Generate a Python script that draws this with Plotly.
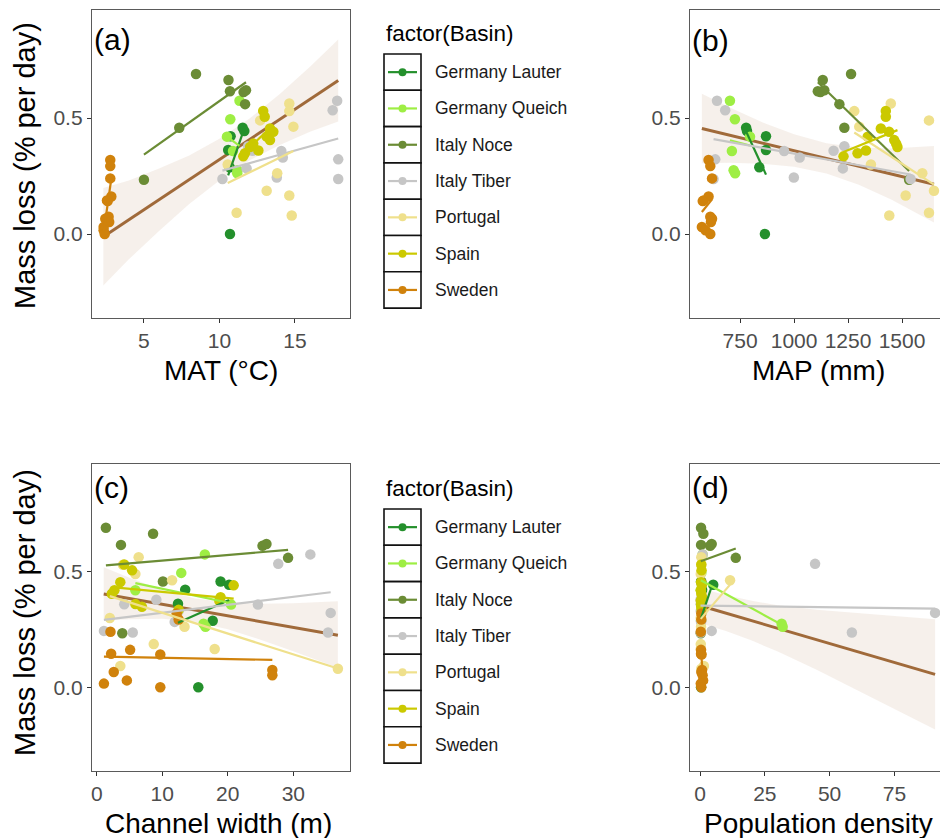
import numpy as np
import plotly.graph_objects as go

# ---------------- data ----------------
basins = ["Germany Lauter", "Germany Queich", "Italy Noce", "Italy Tiber",
          "Portugal", "Spain", "Sweden"]
basin_colors = ["#24902c", "#9eee44", "#6b8c35", "#c6c6c6",
                "#efe08c", "#cbc900", "#d0820c"]

# Germany Lauter
lauter_ml = [0.458, 0.444, 0.422, 0.362, 0.288, 0.000]
lauter_mat = [11.54, 11.65, 10.74, 10.58, 10.68, 10.70]
lauter_map = [778, 782, 870, 870, 839, 865]
lauter_width = [18.9, 20.2, 13.5, 12.4, 17.7, 15.5]
lauter_pop = [0.4, 5.1, 0.8, 0.6, 0.4, 0.4]

# Germany Queich
queich_ml = [0.575, 0.495, 0.420, 0.358, 0.275, 0.262]
queich_mat = [11.33, 10.72, 10.50, 10.90, 11.20, 11.18]
queich_map = [703, 726, 796, 712, 720, 727]
queich_width = [16.5, 12.9, 5.9, 20.5, 16.3, 16.6]
queich_pop = [1.0, 0.5, 0.3, 0.4, 31.5, 31.9]

# Italy Noce
noce_ml = [0.690, 0.664, 0.616, 0.612, 0.620, 0.560, 0.458, 0.234]
noce_mat = [8.45, 10.60, 10.70, 11.60, 11.76, 11.70, 7.34, 5.00]
noce_map = [1264, 1133, 1110, 1122, 1140, 1210, 1233, 1533]
noce_width = [1.4, 8.6, 3.7, 25.3, 25.9, 29.2, 10.1, 3.9]
noce_pop = [0.4, 1.3, 0.4, 3.9, 4.5, 13.8, 0.5, 0.3]

# Italy Tiber
tiber_ml = [0.575, 0.534, 0.322, 0.237, 0.358, 0.330, 0.244, 0.359, 0.379, 0.283, 0.237]
tiber_mat = [17.80, 17.50, 17.87, 17.87, 14.10, 14.20, 13.80, 12.20, 11.90, 11.80, 10.20]
tiber_map = [643, 681, 635, 627, 954, 1026, 999, 1183, 1233, 1226, 1540]
tiber_width = [32.6, 27.7, 35.7, 35.3, 24.6, 12.5, 1.1, 4.2, 9.1, 11.9, 5.5]
tiber_pop = [1.0, 44.4, 90.7, 58.6, 0.5, 0.3, 4.5, 0.3, 0.2, 0.4, 0.3]

# Portugal
portugal_ml = [0.563, 0.530, 0.463, 0.490, 0.262, 0.187, 0.166, 0.092, 0.080, 0.300]
portugal_mat = [14.63, 14.63, 14.90, 12.70, 13.83, 13.13, 14.63, 11.14, 14.79, 10.55]
portugal_map = [1448, 1279, 1302, 1625, 1594, 1648, 1517, 1625, 1441, 1356]
portugal_width = [6.4, 4.0, 11.5, 5.9, 13.4, 8.7, 18.0, 3.6, 36.8, 2.0]
portugal_pop = [0.5, 0.5, 11.6, 0.3, 0.4, 0.3, 0.3, 1.5, 0.5, 0.3]

# Spain
spain_ml = [0.531, 0.506, 0.455, 0.441, 0.420, 0.405, 0.390, 0.375, 0.360, 0.348, 0.335]
spain_mat = [12.90, 13.00, 13.35, 13.57, 13.13, 13.35, 12.24, 12.03, 12.58, 11.69, 11.58]
spain_map = [1425, 1425, 1402, 1440, 1341, 1464, 1473, 1479, 1333, 1294, 1229]
spain_width = [4.2, 5.4, 3.6, 20.9, 2.7, 2.3, 18.9, 18.7, 5.9, 6.9, 12.5]
spain_pop = [0.5, 0.6, 0.4, 0.7, 0.3, 0.5, 0.8, 0.3, 0.4, 0.5, 0.6]

# Sweden
sweden_ml = [0.319, 0.293, 0.240, 0.162, 0.145, 0.142, 0.075, 0.066, 0.052, 0.030, 0.016, 0.000]
sweden_mat = [2.77, 2.77, 2.77, 2.84, 2.55, 2.60, 2.66, 2.44, 2.70, 2.33, 2.33, 2.40]
sweden_map = [604, 612, 620, 604, 581, 577, 612, 620, 615, 573, 590, 612]
sweden_width = [12.2, 12.5, 2.1, 5.1, 2.2, 9.7, 26.8, 2.6, 26.8, 4.6, 1.1, 9.7]
sweden_pop = [0.5, 0.5, 0.3, 0.4, 0.4, 0.6, 0.8, 0.5, 1.0, 1.2, 0.3, 0.5]

# Overall model fit with confidence band
mat_fit_x = [2.31, 4, 6, 8, 10, 12, 14, 16, 17.87]
mat_fit_y = [-0.012, 0.061, 0.148, 0.234, 0.321, 0.408, 0.494, 0.581, 0.662]
mat_fit_lo = [-0.222, -0.109, 0.013, 0.129, 0.231, 0.318, 0.384, 0.441, 0.485]
mat_fit_hi = [0.198, 0.231, 0.283, 0.339, 0.411, 0.498, 0.604, 0.721, 0.839]

map_fit_x = [573, 700, 850, 1000, 1150, 1300, 1450, 1648]
map_fit_y = [0.455, 0.427, 0.393, 0.360, 0.326, 0.293, 0.259, 0.215]
map_fit_lo = [0.305, 0.307, 0.303, 0.290, 0.261, 0.213, 0.149, 0.050]
map_fit_hi = [0.605, 0.547, 0.483, 0.430, 0.391, 0.373, 0.369, 0.380]

width_fit_x = [1.07, 5, 10, 15, 20, 25, 30, 36.8]
width_fit_y = [0.404, 0.384, 0.359, 0.334, 0.309, 0.284, 0.259, 0.225]
width_fit_lo = [0.289, 0.294, 0.297, 0.284, 0.251, 0.206, 0.156, 0.085]
width_fit_hi = [0.519, 0.474, 0.421, 0.384, 0.367, 0.362, 0.364, 0.372]

pop_fit_x = [0.2, 10, 20, 30, 45, 60, 75, 90.7]
pop_fit_y = [0.353, 0.321, 0.288, 0.255, 0.206, 0.157, 0.108, 0.056]
pop_fit_lo = [0.277, 0.244, 0.202, 0.155, 0.076, -0.008, -0.095, -0.182]
pop_fit_hi = [0.429, 0.398, 0.374, 0.355, 0.336, 0.322, 0.311, 0.294]

# tick labels
mat_ticks = [5, 10, 15]
map_ticks = [750, 1000, 1250, 1500]
width_ticks = [0, 10, 20, 30]
pop_ticks = [0, 25, 50, 75]
y_ticks = [0.0, 0.5]
y_ticktext = ["0.0", "0.5"]

# ---------------- assemble ----------------
site_table = {
    "Germany Lauter": dict(ml=lauter_ml, mat=lauter_mat, map=lauter_map, width=lauter_width, pop=lauter_pop),
    "Germany Queich": dict(ml=queich_ml, mat=queich_mat, map=queich_map, width=queich_width, pop=queich_pop),
    "Italy Noce": dict(ml=noce_ml, mat=noce_mat, map=noce_map, width=noce_width, pop=noce_pop),
    "Italy Tiber": dict(ml=tiber_ml, mat=tiber_mat, map=tiber_map, width=tiber_width, pop=tiber_pop),
    "Portugal": dict(ml=portugal_ml, mat=portugal_mat, map=portugal_map, width=portugal_width, pop=portugal_pop),
    "Spain": dict(ml=spain_ml, mat=spain_mat, map=spain_map, width=spain_width, pop=spain_pop),
    "Sweden": dict(ml=sweden_ml, mat=sweden_mat, map=sweden_map, width=sweden_width, pop=sweden_pop),
}

W, H = 940, 838
FONT = "Liberation Sans, Arial, sans-serif"


def px(x):
    return x / W


def py(y):
    return 1 - y / H


panels = [
    dict(var="mat", xa="x", ya="y", fit=(mat_fit_x, mat_fit_y, mat_fit_lo, mat_fit_hi)),
    dict(var="map", xa="x2", ya="y2", fit=(map_fit_x, map_fit_y, map_fit_lo, map_fit_hi)),
    dict(var="width", xa="x3", ya="y3", fit=(width_fit_x, width_fit_y, width_fit_lo, width_fit_hi)),
    dict(var="pop", xa="x4", ya="y4", fit=(pop_fit_x, pop_fit_y, pop_fit_lo, pop_fit_hi)),
]

fig = go.Figure()
for p in panels:
    fx, fy, flo, fhi = p["fit"]
    fig.add_trace(go.Scatter(x=fx, y=fhi, mode="lines", line=dict(width=0, color="rgba(0,0,0,0)"),
                             xaxis=p["xa"], yaxis=p["ya"], showlegend=False, hoverinfo="skip"))
    fig.add_trace(go.Scatter(x=fx, y=flo, mode="lines", line=dict(width=0, color="rgba(0,0,0,0)"),
                             fill="tonexty", fillcolor="rgba(168,112,60,0.10)",
                             xaxis=p["xa"], yaxis=p["ya"], showlegend=False, hoverinfo="skip"))
    fig.add_trace(go.Scatter(x=fx, y=fy, mode="lines", line=dict(width=3, color="#a06a3a"),
                             xaxis=p["xa"], yaxis=p["ya"], showlegend=False))
    for b, c in zip(basins, basin_colors):
        d = site_table[b]
        fig.add_trace(go.Scatter(x=d[p["var"]], y=d["ml"], mode="markers",
                                 marker=dict(size=10.5, color=c, line=dict(width=0)),
                                 xaxis=p["xa"], yaxis=p["ya"], showlegend=False, name=b))
    for b, c in zip(basins, basin_colors):
        d = site_table[b]
        xv = np.array(d[p["var"]], dtype=float)
        yv = np.array(d["ml"], dtype=float)
        slope, icpt = np.polyfit(xv, yv, 1)
        xl = np.array([xv.min(), xv.max()])
        fig.add_trace(go.Scatter(x=xl, y=icpt + slope * xl, mode="lines",
                                 line=dict(width=2.2, color=c),
                                 xaxis=p["xa"], yaxis=p["ya"], showlegend=False, name=b))

# ---------------- axes ----------------
yr = [-0.362, 0.966]
axis_common = dict(ticks="outside", ticklen=4, tickwidth=1, tickcolor="#333333",
                   showline=True, linecolor="#5a5a5a", linewidth=1.3,
                   showgrid=False, zeroline=False, tickangle=0,
                   tickfont=dict(family=FONT, size=21, color="#4d4d4d"))

dom_left = [px(92), px(350)]
dom_right = [px(690), 1.0]
dom_top = [py(318), py(10)]
dom_bot = [py(771), py(464)]

fig.update_layout(
    xaxis=dict(domain=dom_left, range=[1.56, 18.65], tickvals=mat_ticks, anchor="y", mirror=True, **axis_common),
    yaxis=dict(domain=dom_top, range=yr, tickvals=y_ticks, ticktext=y_ticktext, anchor="x", mirror=True, **axis_common),
    xaxis2=dict(domain=dom_right, range=[518, 1676], tickvals=map_ticks, anchor="y2", mirror=True, **axis_common),
    yaxis2=dict(domain=dom_top, range=yr, tickvals=y_ticks, ticktext=y_ticktext, anchor="x2", mirror=False, **axis_common),
    xaxis3=dict(domain=dom_left, range=[-0.72, 38.65], tickvals=width_ticks, anchor="y3", mirror=True, **axis_common),
    yaxis3=dict(domain=dom_bot, range=yr, tickvals=y_ticks, ticktext=y_ticktext, anchor="x3", mirror=True, **axis_common),
    xaxis4=dict(domain=dom_right, range=[-3.86, 92.6], tickvals=pop_ticks, anchor="y4", mirror=True, **axis_common),
    yaxis4=dict(domain=dom_bot, range=yr, tickvals=y_ticks, ticktext=y_ticktext, anchor="x4", mirror=False, **axis_common),
)

# ---------------- text ----------------
ann = []


def text(t, x, y, size, xanchor="center", angle=0, color="#000000"):
    ann.append(dict(text=t, x=px(x), y=py(y), xref="paper", yref="paper",
                    xanchor=xanchor, yanchor="middle", showarrow=False, textangle=angle,
                    font=dict(family=FONT, size=size, color=color)))


text("Mass loss (% per day)", 25, 166, 29, angle=-90)
text("Mass loss (% per day)", 25, 613, 29, angle=-90)
text("MAT (°C)", 221, 371, 28)
text("MAP (mm)", 818, 371, 28)
text("Channel width (m)", 218, 823, 28)
text("Population density", 818, 823, 28)
text("(a)", 92, 40, 30, xanchor="left")
text("(b)", 690, 41, 30, xanchor="left")
text("(c)", 92, 487, 30, xanchor="left")
text("(d)", 690, 487, 30, xanchor="left")

shapes = []
row_h = 36.3
for off in (0, 455):
    text("factor(Basin)", 384, 34 + off, 22.5, xanchor="left")
    for i, (b, c) in enumerate(zip(basins, basin_colors)):
        top = 54 + off + i * row_h
        cy = top + row_h / 2
        shapes.append(dict(type="rect", xref="paper", yref="paper",
                           x0=px(384), x1=px(421), y0=py(top + row_h), y1=py(top),
                           line=dict(color="#111111", width=1.6), fillcolor="white", layer="above"))
        shapes.append(dict(type="line", xref="paper", yref="paper",
                           x0=px(388), x1=px(417), y0=py(cy), y1=py(cy),
                           line=dict(color=c, width=2.2), layer="above"))
        shapes.append(dict(type="circle", xref="paper", yref="paper",
                           x0=px(402.5 - 4), x1=px(402.5 + 4), y0=py(cy + 4), y1=py(cy - 4),
                           line=dict(width=0), fillcolor=c, layer="above"))
        text(b, 433, cy, 17.5, xanchor="left", color="#1a1a1a")

fig.update_layout(
    width=W, height=H, autosize=False,
    margin=dict(l=0, r=0, t=0, b=0),
    paper_bgcolor="white", plot_bgcolor="white",
    showlegend=False, annotations=ann, shapes=shapes,
    font=dict(family=FONT),
)

fig.write_html("out.html", config={"displayModeBar": False},
               post_script="document.body.style.margin='0';")
